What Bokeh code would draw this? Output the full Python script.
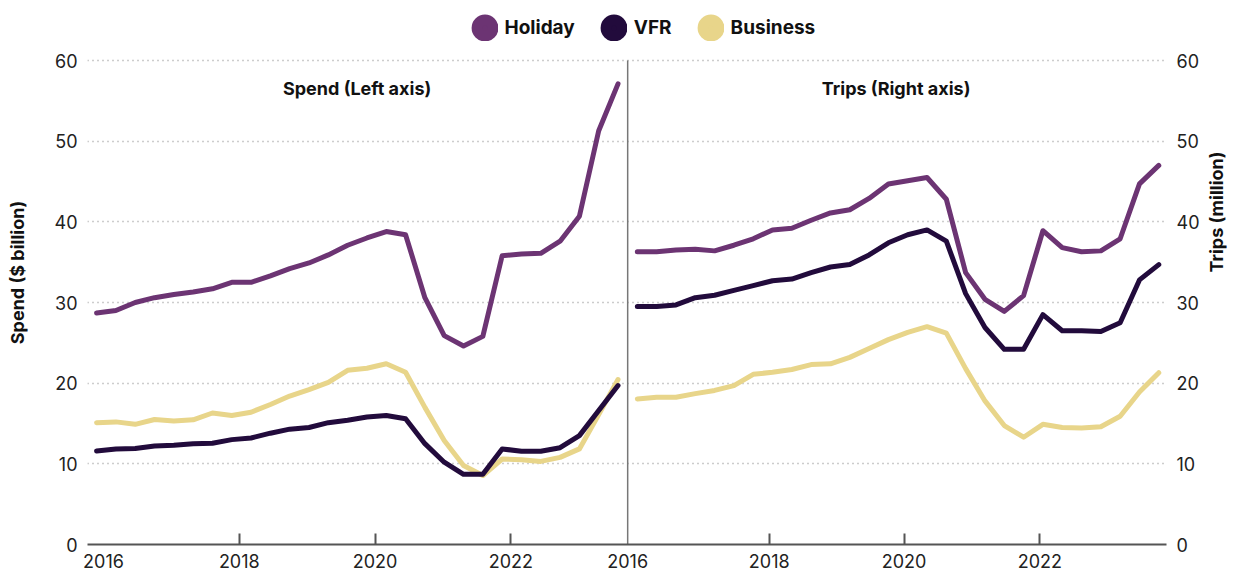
from bokeh.plotting import figure
from bokeh.models import Range1d, LinearAxis, FixedTicker, Label, Legend, LegendItem
from bokeh.embed import file_html
from bokeh.resources import INLINE

# ---- data ----
quarters = list(range(28))
series_names = ["Holiday", "VFR", "Business"]
year_labels = ["2016", "2018", "2020", "2022"]

spend_holiday = [28.7, 29.0, 30.0, 30.6, 31.0, 31.3, 31.7, 32.5, 32.5, 33.3, 34.2, 34.9, 35.9, 37.1,
                 38.0, 38.8, 38.4, 30.6, 25.9, 24.6, 25.8, 35.8, 36.0, 36.1, 37.6, 40.7, 51.3, 57.1]
spend_vfr = [11.6, 11.85, 11.9, 12.2, 12.3, 12.5, 12.55, 13.0, 13.2, 13.8, 14.3, 14.5, 15.1, 15.4,
             15.8, 16.0, 15.6, 12.5, 10.2, 8.7, 8.7, 11.85, 11.55, 11.55, 12.0, 13.5, 16.6, 19.7]
spend_business = [15.1, 15.2, 14.9, 15.5, 15.3, 15.45, 16.3, 16.0, 16.4, 17.35, 18.4, 19.2, 20.1, 21.6,
                  21.85, 22.4, 21.35, 17.0, 12.9, 9.8, 8.55, 10.6, 10.5, 10.3, 10.8, 11.85, 16.1, 20.45]

trips_holiday = [36.3, 36.3, 36.5, 36.6, 36.4, 37.1, 37.9, 39.0, 39.2, 40.2, 41.1, 41.5, 42.9, 44.7,
                 45.1, 45.5, 42.8, 33.7, 30.4, 28.9, 30.85, 38.9, 36.8, 36.3, 36.4, 37.9, 44.7, 47.0]
trips_vfr = [29.5, 29.5, 29.7, 30.6, 30.9, 31.5, 32.1, 32.7, 32.9, 33.7, 34.4, 34.7, 35.9, 37.4,
             38.4, 39.0, 37.6, 31.1, 26.9, 24.2, 24.2, 28.5, 26.5, 26.5, 26.4, 27.5, 32.8, 34.7]
trips_business = [18.05, 18.25, 18.25, 18.7, 19.1, 19.7, 21.1, 21.35, 21.7, 22.3, 22.4, 23.2, 24.3, 25.4,
                  26.3, 27.0, 26.2, 21.8, 17.8, 14.75, 13.3, 14.9, 14.5, 14.45, 14.6, 15.9, 18.9, 21.3]

spend_series = {"Holiday": spend_holiday, "VFR": spend_vfr, "Business": spend_business}
trips_series = {"Holiday": trips_holiday, "VFR": trips_vfr, "Business": trips_business}

colors = {"Holiday": "#6c3473", "VFR": "#220b3c", "Business": "#e8d58a"}
FONT = "Inter"
TICK_SIZE = "18px"
PANEL_OFFSET = 28
Y_MAX = 60
Y_TOP = Y_MAX * 544 / 484   # headroom above the plot for legend

p = figure(width=1240, height=576, output_backend="svg", toolbar_location=None,
           x_range=Range1d(-0.47, 55.4), y_range=Range1d(0, Y_TOP),
           min_border_left=87, min_border_right=72, min_border_top=0, min_border_bottom=32)
p.outline_line_color = None
p.xgrid.grid_line_color = None
p.ygrid.grid_line_color = "#9a9a9a"
p.ygrid.grid_line_dash = "1 4"
p.ygrid.grid_line_width = 1.5
p.ygrid.ticker = FixedTicker(ticks=[10, 20, 30, 40, 50, 60])
p.extra_y_ranges = {"trips": Range1d(0, Y_TOP)}

# x axis
left_pos = [0.36, 7.39, 14.42, 21.45]
right_pos = [27.5, 34.83, 41.81, 48.84]
xa = p.xaxis[0]
xa.ticker = FixedTicker(ticks=left_pos + right_pos,
                        minor_ticks=left_pos[1:] + right_pos[1:])
xa.major_label_overrides = {pos: lab for pos, lab in zip(left_pos + right_pos, year_labels + year_labels)}
xa.major_tick_in = 0
xa.major_tick_out = 0
xa.minor_tick_in = 11
xa.minor_tick_out = 0
xa.minor_tick_line_color = "#555555"
xa.minor_tick_line_width = 2
xa.axis_line_color = "#555555"
xa.axis_line_width = 2
xa.major_label_standoff = 9
xa.major_label_text_font = FONT
xa.major_label_text_font_size = TICK_SIZE
xa.major_label_text_color = "#222222"

# left y axis
ya = p.yaxis[0]
ya.ticker = FixedTicker(ticks=[0, 10, 20, 30, 40, 50, 60])
ya.axis_line_color = None
ya.major_tick_in = 0
ya.major_tick_out = 0
ya.minor_tick_line_color = None
ya.major_label_standoff = 10
ya.major_label_text_font = FONT
ya.major_label_text_font_size = TICK_SIZE
ya.major_label_text_color = "#222222"
ya.axis_label = "Spend ($ billion)"
ya.axis_label_text_font = FONT
ya.axis_label_text_font_style = "bold"
ya.axis_label_text_font_size = "18px"
ya.axis_label_text_color = "#111111"
ya.axis_label_standoff = 24

# right y axis
yr = LinearAxis(y_range_name="trips", ticker=FixedTicker(ticks=[0, 10, 20, 30, 40, 50, 60]))
yr.axis_line_color = None
yr.major_tick_in = 0
yr.major_tick_out = 0
yr.minor_tick_line_color = None
yr.major_label_standoff = 10
yr.major_label_text_font = FONT
yr.major_label_text_font_size = TICK_SIZE
yr.major_label_text_color = "#222222"
yr.axis_label = "Trips (million)"
yr.axis_label_text_font = FONT
yr.axis_label_text_font_style = "bold"
yr.axis_label_text_font_size = "18px"
yr.axis_label_text_color = "#111111"
yr.axis_label_standoff = 14
yr.axis_label_orientation = 1.5707963
p.add_layout(yr, "right")

# divider between the two panels (from axis to top gridline)
p.segment(x0=[27.5], y0=[0], x1=[27.5], y1=[Y_MAX], line_color="#777777", line_width=1.5)

# lines
right_x = [q + PANEL_OFFSET for q in quarters]
lw = 5
for name in ["Business", "VFR", "Holiday"]:
    p.line(quarters, spend_series[name], line_color=colors[name], line_width=lw,
           line_join="round", line_cap="round")
for name in ["Business", "VFR", "Holiday"]:
    p.line(right_x, trips_series[name], line_color=colors[name], line_width=lw,
           line_join="round", line_cap="round", y_range_name="trips")

# panel titles
p.add_layout(Label(x=13.49, y=56.5, text="Spend (Left axis)", text_align="center", text_baseline="middle",
                   text_font=FONT, text_font_style="bold", text_font_size="18px", text_color="#111111"))
p.add_layout(Label(x=41.4, y=56.5, text="Trips (Right axis)", text_align="center", text_baseline="middle",
                   text_font=FONT, text_font_style="bold", text_font_size="18px", text_color="#111111"))

# legend (circle swatches; renderers hidden, only used for the legend)
items = []
for name in series_names:
    r = p.scatter(x=quarters, y=spend_series[name], marker="circle", fill_color=colors[name],
                  line_color=colors[name], line_width=16, visible=False)
    items.append(LegendItem(label=name, renderers=[r]))
legend = Legend(items=items, location=(383.5, 503.5), orientation="horizontal",
                glyph_width=27, glyph_height=27, label_height=27, label_standoff=7, spacing=25,
                padding=0, margin=0, border_line_color=None, background_fill_alpha=0,
                label_text_font=FONT, label_text_font_style="bold", label_text_font_size="19px",
                label_text_color="#111111")
p.add_layout(legend)

open("out.html", "w").write(file_html(p, INLINE))
